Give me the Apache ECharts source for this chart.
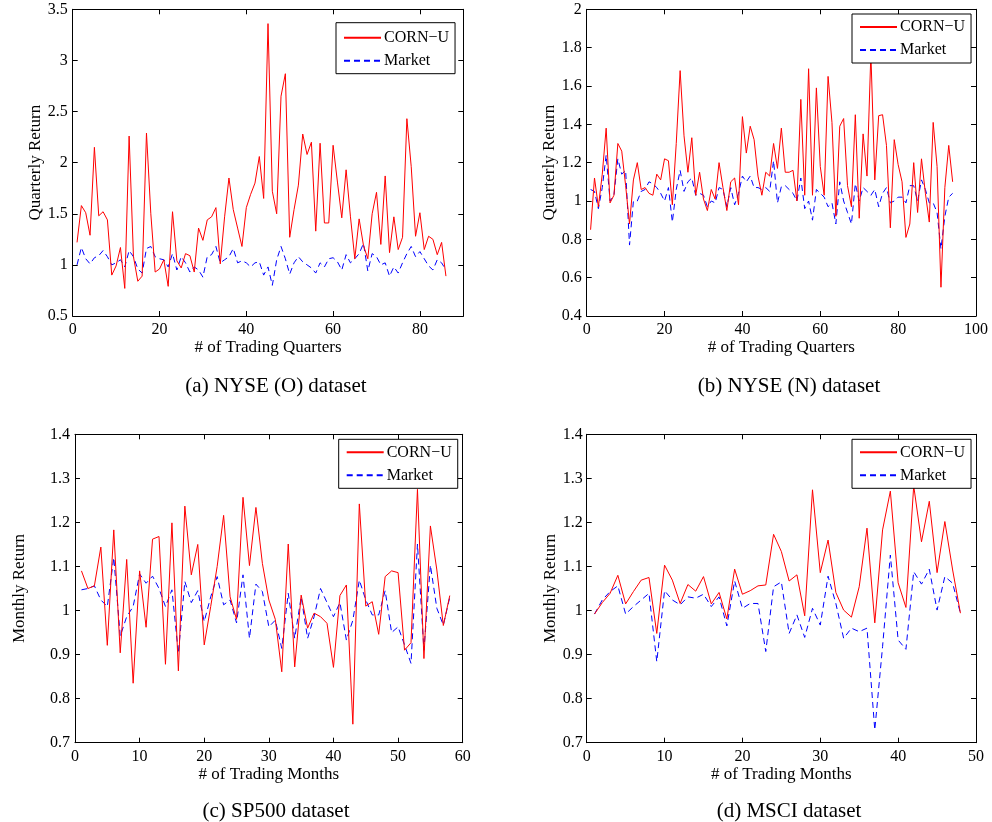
<!DOCTYPE html>
<html>
<head>
<meta charset="utf-8">
<script src="https://cdn.jsdelivr.net/npm/echarts@6/dist/echarts.min.js"></script>
<style>
  html, body { margin: 0; padding: 0; background: #fff; }
  #chart { width: 992px; height: 822px; }
</style>
</head>
<body>
<div id="chart"></div>
<script>
// ---- data: returns per period, indexed 1..N ----
const nyseOCorn = [1.22,1.58,1.51,1.29,2.15,1.48,1.52,1.44,0.90,0.99,
  1.17,0.77,2.26,1.08,0.84,0.89,2.29,1.50,0.93,0.96,
  1.05,0.79,1.52,1.04,0.97,1.11,1.09,0.93,1.36,1.24,
  1.44,1.47,1.56,1.01,1.47,1.85,1.54,1.36,1.18,1.56,
  1.69,1.80,2.06,1.65,3.36,1.72,1.50,2.65,2.87,1.27,
  1.54,1.78,2.28,2.08,2.20,1.33,2.19,1.41,1.41,2.17,
  1.81,1.46,1.93,1.47,1.06,1.45,1.19,1.06,1.50,1.71,
  1.20,1.87,1.12,1.47,1.15,1.27,2.43,1.96,1.28,1.51,
  1.15,1.28,1.25,1.10,1.22,0.89];
const nyseOMarket = [1.00,1.17,1.06,1.01,1.07,1.09,1.14,1.08,1.00,1.02,
  1.05,0.98,1.14,1.08,0.96,0.92,1.16,1.18,1.08,1.06,
  1.05,0.98,1.11,0.95,1.08,1.02,0.93,0.98,0.95,0.88,
  1.08,1.10,1.18,1.02,1.05,1.08,1.16,1.02,1.04,1.02,
  0.98,1.02,1.03,0.90,0.98,0.80,1.05,1.18,1.06,0.91,
  1.02,1.08,1.03,1.00,0.97,0.92,1.02,0.98,1.06,1.07,
  1.03,0.95,1.10,1.02,1.06,1.11,1.21,0.94,1.11,1.08,
  1.00,1.02,0.89,0.98,0.92,1.02,1.11,1.18,1.08,1.13,
  1.06,0.99,0.95,1.05,1.02,0.95];

const nyseNCorn = [0.85,1.12,0.97,1.14,1.38,0.99,1.03,1.30,1.26,1.08,
  0.88,1.11,1.20,1.06,1.07,1.04,1.03,1.14,1.11,1.22,
  1.21,0.98,1.30,1.68,1.34,1.15,1.33,1.03,1.15,1.01,
  0.95,1.06,1.01,1.20,1.07,0.95,1.10,1.12,0.98,1.44,
  1.25,1.39,1.32,1.13,1.03,1.15,1.13,1.30,1.17,1.38,
  1.15,1.15,1.16,1.00,1.53,1.03,1.69,1.03,1.59,1.18,
  1.03,1.65,1.41,0.92,1.39,1.43,1.08,0.97,1.45,0.91,
  1.35,1.13,1.77,1.11,1.445,1.45,1.29,0.86,1.32,1.19,
  1.10,0.81,0.88,1.20,0.94,1.22,1.04,0.89,1.41,1.18,
  0.55,1.07,1.29,1.10];
const nyseNMarket = [1.06,1.05,0.96,1.07,1.24,1.00,1.03,1.22,1.14,1.16,
  0.77,1.00,1.00,1.05,1.06,1.10,1.09,1.07,1.04,1.00,
  1.07,0.89,1.06,1.16,1.05,1.10,1.12,1.03,1.04,1.03,
  0.97,1.00,0.99,1.07,1.06,0.97,1.07,0.98,1.04,1.13,
  1.10,1.13,1.07,1.07,1.06,1.07,1.05,1.21,0.99,1.075,
  1.08,1.06,1.04,1.00,1.12,0.96,1.00,0.90,1.06,1.04,
  1.02,0.97,0.99,0.88,1.10,1.00,0.94,0.88,1.09,1.00,
  1.07,1.05,1.03,1.06,0.97,1.04,1.07,0.99,1.00,1.02,
  1.02,0.99,1.08,1.08,1.00,1.11,1.06,0.99,0.99,0.94,
  0.75,0.92,1.02,1.04];

const sp500Corn = [1.09,1.05,1.056,1.144,0.921,1.183,0.904,1.116,0.835,1.09,
  0.962,1.162,1.168,0.878,1.199,0.863,1.237,1.081,1.15,0.922,
  1.009,1.10,1.216,1.031,0.98,1.257,1.102,1.234,1.107,1.024,
  0.98,0.861,1.151,0.872,1.035,0.96,0.994,0.986,0.971,0.871,
  1.034,1.058,0.742,1.242,1.01,1.02,0.946,1.077,1.09,1.086,
  0.91,0.927,1.275,0.891,1.192,1.092,0.966,1.034];
const sp500Market = [1.047,1.05,1.056,1.024,1.009,1.12,0.942,0.986,1.009,1.083,
  1.062,1.078,1.05,1.009,1.047,0.903,1.066,1.018,1.045,0.975,
  1.031,1.077,1.013,1.024,0.972,1.081,0.937,1.06,1.043,0.963,
  0.978,0.914,1.039,0.937,1.031,0.937,0.986,1.05,1.018,0.986,
  1.018,0.933,0.978,1.069,1.024,0.99,0.99,1.045,0.95,0.963,
  0.922,0.88,1.151,0.91,1.103,1.005,0.967,1.03];

const msciCorn = [0.992,1.018,1.039,1.08,1.015,1.043,1.069,1.075,0.948,1.103,
  1.069,1.016,1.059,1.044,1.077,1.015,1.041,0.981,1.094,1.037,
  1.045,1.056,1.058,1.173,1.134,1.067,1.081,0.988,1.274,1.086,
  1.16,1.041,1.001,0.985,1.054,1.187,0.972,1.183,1.271,1.063,
  1.007,1.283,1.156,1.248,1.086,1.202,1.092,0.994];
const msciMarket = [0.992,1.024,1.043,1.056,0.992,1.009,1.024,1.039,0.884,1.045,
  1.024,1.013,1.031,1.028,1.037,1.009,1.031,0.965,1.067,1.005,
  1.016,1.016,0.907,1.054,1.065,0.948,0.99,0.939,1.005,0.967,
  1.078,1.016,0.937,0.96,0.952,0.96,0.729,0.918,1.126,0.933,
  0.912,1.088,1.06,1.094,1.001,1.077,1.062,0.994];

const seriesNames = ['CORN\u2212U', 'Market'];
const captions = ['(a) NYSE (O) dataset', '(b) NYSE (N) dataset', '(c) SP500 dataset', '(d) MSCI dataset'];
const xNames = ['# of Trading Quarters', '# of Trading Quarters', '# of Trading Months', '# of Trading Months'];
const yNames = ['Quarterly Return', 'Quarterly Return', 'Monthly Return', 'Monthly Return'];
// axis ranges: [min, max, step]
const xRanges = [[0, 90, 20], [0, 100, 20], [0, 60, 10], [0, 50, 10]];
const yRanges = [[0.5, 3.5, 0.5], [0.4, 2, 0.2], [0.7, 1.4, 0.1], [0.7, 1.4, 0.1]];
const panelData = [
  [nyseOCorn, nyseOMarket],
  [nyseNCorn, nyseNMarket],
  [sp500Corn, sp500Market],
  [msciCorn, msciMarket]
];

// ---- layout ----
const FONT = 'Liberation Serif';
const grids = [
  { left: 72.7, top: 9.3, width: 390.6, height: 306.7 },
  { left: 586.7, top: 9.3, width: 389.3, height: 306.7 },
  { left: 75, top: 434.3, width: 387.7, height: 308.4 },
  { left: 586.7, top: 434.3, width: 389.3, height: 308.4 }
];
const yNameGap = [26, 24, 47, 27];
const yLabelMargin = [5, 5, 5, 4];
const xNameGap = [23, 23, 23, 23];
const captionPos = [[271, 371], [784, 371], [271, 796], [784, 796]];
const legendPos = [
  { left: 336, top: 22.7, padding: [7, 6, 5, 7] },
  { left: 852, top: 14, padding: [5, 6, 5, 7] },
  { left: 338.7, top: 439.3, padding: [5, 6, 5, 7] },
  { left: 852, top: 439.3, padding: [5, 6, 5, 7] }
];

const toPoints = arr => arr.map((v, i) => [i + 1, v]);
const axisLine = { show: true, onZero: false, lineStyle: { color: '#000', width: 1 } };
const tick = { show: true, inside: true, length: 5, lineStyle: { color: '#000', width: 1 } };
const labelStyle = { color: '#000', fontFamily: FONT, fontSize: 16 };
const nameStyle = { color: '#000', fontFamily: FONT, fontSize: 17 };

const xAxes = [], yAxes = [], series = [], legends = [], titles = [];
grids.forEach((g, k) => {
  const [x0, x1, xs] = xRanges[k];
  const [y0, y1, ys] = yRanges[k];
  // bottom x axis with labels
  xAxes.push({
    gridIndex: k, type: 'value', position: 'bottom', min: x0, max: x1, interval: xs,
    axisLine, axisTick: tick, splitLine: { show: false },
    axisLabel: Object.assign({ margin: 6, showMaxLabel: x1 % xs === 0 }, labelStyle),
    name: xNames[k], nameLocation: 'middle', nameGap: xNameGap[k], nameTextStyle: nameStyle
  });
  // mirrored top x axis (ticks only)
  xAxes.push({
    gridIndex: k, type: 'value', position: 'top', min: x0, max: x1, interval: xs,
    axisLine, axisTick: tick, splitLine: { show: false }, axisLabel: { show: false }
  });
  // left y axis with labels
  yAxes.push({
    gridIndex: k, type: 'value', position: 'left', min: y0, max: y1, interval: ys,
    axisLine, axisTick: tick, splitLine: { show: false },
    axisLabel: Object.assign({ margin: yLabelMargin[k] }, labelStyle),
    name: yNames[k], nameLocation: 'middle', nameGap: yNameGap[k], nameRotate: 90,
    nameTextStyle: nameStyle
  });
  // mirrored right y axis (ticks only)
  yAxes.push({
    gridIndex: k, type: 'value', position: 'right', min: y0, max: y1, interval: ys,
    axisLine, axisTick: tick, splitLine: { show: false }, axisLabel: { show: false }
  });

  const [corn, market] = panelData[k];
  series.push({
    name: seriesNames[0], type: 'line', xAxisIndex: 2 * k, yAxisIndex: 2 * k,
    data: toPoints(corn), symbol: 'none', showSymbol: false, z: 3,
    lineStyle: { color: '#ff0000', width: 1 }, itemStyle: { color: '#ff0000' }
  });
  series.push({
    name: seriesNames[1], type: 'line', xAxisIndex: 2 * k, yAxisIndex: 2 * k,
    data: toPoints(market), symbol: 'none', showSymbol: false, z: 2,
    lineStyle: { color: '#0000ff', width: 1, type: [6, 4] }, itemStyle: { color: '#0000ff' }
  });

  legends.push({
    data: seriesNames, orient: 'vertical', left: legendPos[k].left, top: legendPos[k].top,
    padding: legendPos[k].padding, itemGap: 7, itemWidth: 37, itemHeight: 14,
    borderColor: '#000', borderWidth: 1, backgroundColor: '#fff', borderRadius: 0,
    selectedMode: false,
    // only the line sample is shown, no marker
    itemStyle: { opacity: 0 },
    lineStyle: { opacity: 1 },
    textStyle: { color: '#000', fontFamily: FONT, fontSize: 16, padding: [0, 0, 0, -2] }
  });

  titles.push({
    text: captions[k], left: captionPos[k][0], top: captionPos[k][1], textAlign: 'center',
    textStyle: { color: '#000', fontFamily: FONT, fontSize: 21, fontWeight: 'normal' }
  });
});

const chart = echarts.init(document.getElementById('chart'), null, { renderer: 'canvas' });
chart.setOption({
  animation: false,
  backgroundColor: '#fff',
  title: titles,
  legend: legends,
  grid: grids,
  xAxis: xAxes,
  yAxis: yAxes,
  series
});
</script>
</body>
</html>
